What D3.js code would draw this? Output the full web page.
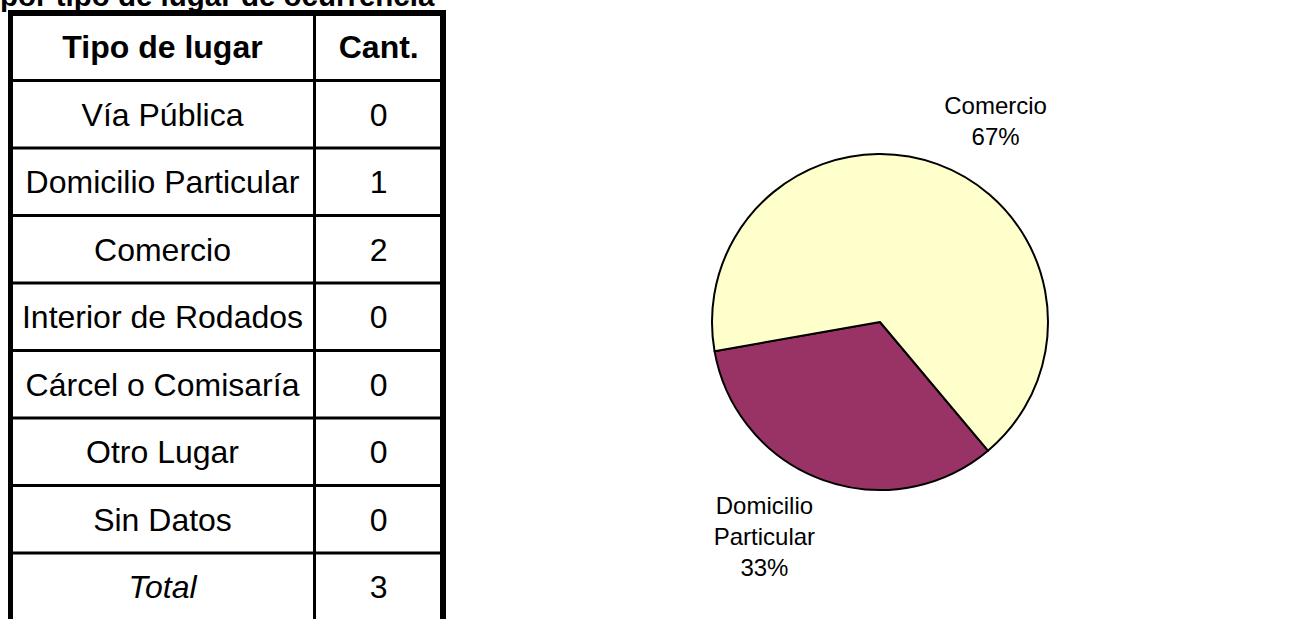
<!DOCTYPE html>
<html>
<head>
<meta charset="utf-8">
<script src="https://cdn.jsdelivr.net/npm/d3@7/dist/d3.min.js"></script>
<style>
  body { margin: 0; background: #fff; }
  svg { display: block; font-family: "Liberation Sans", Arial, sans-serif; }
</style>
</head>
<body>
<div class="grafico"></div>
<script>
// Données du tableau
const titre = "por tipo de lugar de ocurrencia";
const entetes = ["Tipo de lugar", "Cant."];
const lugares = ["Vía Pública", "Domicilio Particular", "Comercio", "Interior de Rodados",
                 "Cárcel o Comisaría", "Otro Lugar", "Sin Datos"];
const cantidades = [0, 1, 2, 0, 0, 0, 0];
const etiquetaTotal = "Total";
const couleurs = ["#9999FF", "#993366", "#FFFFCC", "#CCFFFF", "#660066", "#FF8080", "#0066CC"];

const width = 1307, height = 619;

const svg = d3.select('.grafico').append('svg')
    .attr('width', width)
    .attr('height', height);

// titre (coupé en haut comme dans l'original)
svg.append('text')
    .attr('x', 0)
    .attr('y', 6)
    .style('font-weight', 'bold')
    .style('font-size', '29.5px')
    .text(titre);

// ---- tableau ----
const total = d3.sum(cantidades);
const lignes = [entetes, ...lugares.map((l, i) => [l, cantidades[i]]), [etiquetaTotal, total]];

const y = d3.scaleBand()
    .domain(d3.range(lignes.length))
    .range([13, 13 + lignes.length * 67.5]);

const colX = [10.5, 314.5, 443];

const tableau = svg.append('g');

// lignes horizontales
tableau.selectAll('.hligne')
    .data(d3.range(1, lignes.length))
    .join('line')
    .attr('x1', colX[0]).attr('x2', colX[2])
    .attr('y1', d => y(d)).attr('y2', d => y(d))
    .attr('stroke', '#000').attr('stroke-width', 3);

// bordure du haut
tableau.append('line')
    .attr('x1', colX[0] - 2.5).attr('x2', colX[2] + 3)
    .attr('y1', y(0)).attr('y2', y(0))
    .attr('stroke', '#000').attr('stroke-width', 6);

// verticales
tableau.selectAll('.vligne')
    .data(colX)
    .join('line')
    .attr('x1', d => d).attr('x2', d => d)
    .attr('y1', y(0)).attr('y2', y.range()[1])
    .attr('stroke', '#000')
    .attr('stroke-width', (d, i) => i === 1 ? 3 : (i === 0 ? 5 : 6));

// textes
lignes.forEach((ligne, i) => {
    ligne.forEach((val, j) => {
        tableau.append('text')
            .attr('x', (colX[j] + colX[j + 1]) / 2)
            .attr('y', y(i) + y.bandwidth() / 2)
            .attr('dy', '0.36em')
            .attr('text-anchor', 'middle')
            .style('font-size', '32px')
            .style('font-weight', i === 0 ? 'bold' : 'normal')
            .style('font-style', (i === lignes.length - 1 && j === 0) ? 'italic' : 'normal')
            .text(val);
    });
});

// ---- camembert ----
const cx = 880, cy = 322, rayon = 168;
const donnees = lugares.map((l, i) => ({ lugar: l, valeur: cantidades[i], couleur: couleurs[i] }));

const pie = d3.pie()
    .sort(null)
    .value(d => d.valeur)
    .startAngle(140 * Math.PI / 180)
    .endAngle(140 * Math.PI / 180 + 2 * Math.PI);

const arcs = pie(donnees).filter(d => d.data.valeur > 0);
const arc = d3.arc().innerRadius(0).outerRadius(rayon);
const arcLabel = d3.arc().innerRadius(221).outerRadius(221);

const gPie = svg.append('g').attr('transform', `translate(${cx},${cy})`);

gPie.selectAll('path')
    .data(arcs)
    .join('path')
    .attr('d', arc)
    .attr('fill', d => d.data.couleur)
    .attr('stroke', '#000')
    .attr('stroke-width', 2)
    .attr('stroke-linejoin', 'round');

const pct = d3.format('.0%');

const labels = gPie.selectAll('.label')
    .data(arcs)
    .join('text')
    .attr('class', 'label')
    .attr('text-anchor', 'middle')
    .style('font-size', '24px')
    .attr('transform', d => {
        const [lx, ly] = arcLabel.centroid(d);
        const dx = lx > 0 ? 40 : -40;
        return `translate(${lx + dx},${ly + 7})`;
    });

labels.each(function(d) {
    const mots = d.data.lugar.split(' ');
    const texte = [...mots, pct(d.data.valeur / total)];
    const t = d3.select(this);
    const lh = 31;
    const y0 = -(texte.length - 1) * lh / 2;
    texte.forEach((m, k) => {
        t.append('tspan')
            .attr('x', 0)
            .attr('y', y0 + k * lh)
            .attr('dy', '0.36em')
            .text(m);
    });
});
</script>
</body>
</html>
